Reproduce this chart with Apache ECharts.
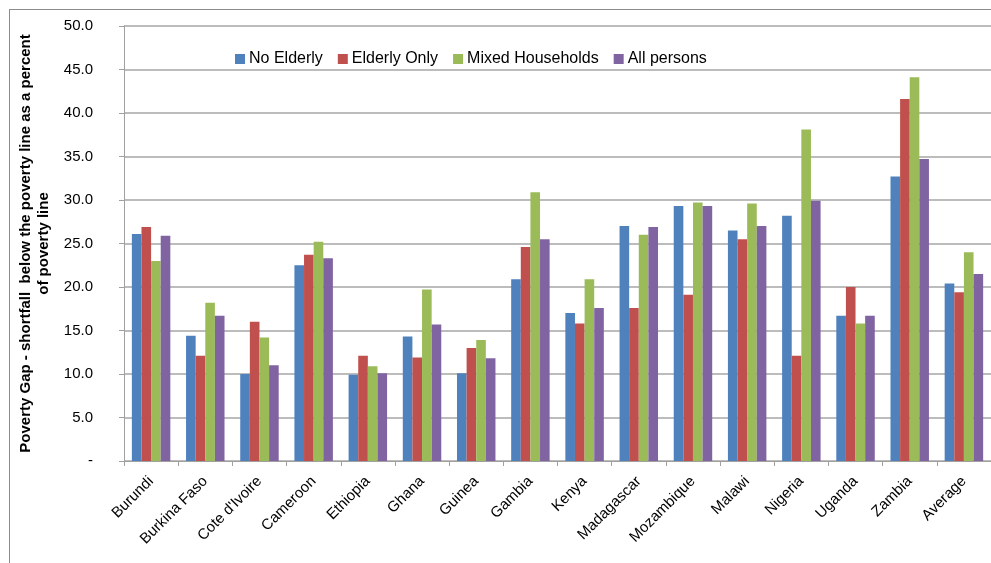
<!DOCTYPE html>
<html>
<head>
<meta charset="utf-8">
<script src="https://cdn.jsdelivr.net/npm/echarts@6/dist/echarts.min.js"></script>
<style>html,body{margin:0;padding:0;background:#fff;}#c{width:991px;height:563px;}</style>
</head>
<body>
<div id="c"></div>
<script>
const categories = ['Burundi','Burkina Faso',"Cote d'Ivoire",'Cameroon','Ethiopia','Ghana','Guinea','Gambia','Kenya','Madagascar','Mozambique','Malawi','Nigeria','Uganda','Zambia','Average'];
const noElderly    = [26.1, 14.4, 10.0, 22.5,  9.9, 14.3, 10.1, 20.9, 17.0, 27.0, 29.3, 26.5, 28.2, 16.7, 32.7, 20.4];
const elderlyOnly  = [26.9, 12.1, 16.0, 23.7, 12.1, 11.9, 13.0, 24.6, 15.8, 17.6, 19.1, 25.5, 12.1, 20.0, 41.6, 19.4];
const mixedHH      = [23.0, 18.2, 14.2, 25.2, 10.9, 19.7, 13.9, 30.9, 20.9, 26.0, 29.7, 29.6, 38.1, 15.8, 44.1, 24.0];
const allPersons   = [25.9, 16.7, 11.0, 23.3, 10.1, 15.7, 11.8, 25.5, 17.6, 26.9, 29.3, 27.0, 29.9, 16.7, 34.7, 21.5];
const seriesNames  = ['No Elderly','Elderly Only','Mixed Households','All persons'];
const yTicks = { min: 0, max: 50, interval: 5 };
const yTitle = 'Poverty Gap - shortfall  below the poverty line as a percent\nof poverty line';

const colors = ['#4F81BD','#C0504D','#9BBB59','#8064A2'];
const font = 'Liberation Sans, Arial, sans-serif';
const chart = echarts.init(document.getElementById('c'), null, {renderer:'canvas'});
const data = [noElderly, elderlyOnly, mixedHH, allPersons];
chart.setOption({
  animation: false,
  color: colors,
  textStyle: { fontFamily: font },
  graphic: [
    { type: 'line', shape: { x1: 9, y1: 9.5, x2: 991, y2: 9.5 }, style: { stroke: '#8c8c8c', lineWidth: 1 } },
    { type: 'line', shape: { x1: 9.5, y1: 9, x2: 9.5, y2: 563 }, style: { stroke: '#8c8c8c', lineWidth: 1 } }
  ],
  legend: {
    left: 230, top: 46,
    itemWidth: 10, itemHeight: 10, itemGap: 15,
    icon: 'rect',
    textStyle: { fontFamily: font, fontSize: 16, color: '#000', padding: [0,0,0,-1] },
    data: seriesNames
  },
  grid: { left: 124, top: 26, width: 869, height: 435, containLabel: false },
  xAxis: {
    type: 'category',
    data: categories,
    boundaryGap: true,
    axisLine: { lineStyle: { color: '#a0a0a0', width: 1 } },
    axisTick: { show: true, length: 5, lineStyle: { color: '#a0a0a0' } },
    axisLabel: { rotate: 45, margin: 18, fontSize: 15, color: '#000', fontFamily: font, interval: 0 }
  },
  yAxis: {
    type: 'value',
    min: yTicks.min, max: yTicks.max, interval: yTicks.interval,
    name: yTitle,
    nameLocation: 'middle',
    nameRotate: 90,
    nameGap: 71,
    nameTextStyle: { fontFamily: font, fontSize: 15, fontWeight: 'bold', color: '#000', lineHeight: 18, align: 'center' },
    axisLine: { show: true, lineStyle: { color: '#a0a0a0', width: 1 } },
    axisTick: { show: true, length: 5, lineStyle: { color: '#a0a0a0' } },
    splitLine: { show: true, lineStyle: { color: '#a6a6a6', width: 1.5 } },
    axisLabel: {
      margin: 31, fontSize: 15, color: '#000', fontFamily: font,
      formatter: v => v === 0 ? '-' : v.toFixed(1)
    }
  },
  series: seriesNames.map((n, i) => ({
    name: n,
    type: 'bar',
    data: data[i],
    barGap: '0%',
    barCategoryGap: '29%',
    itemStyle: { color: colors[i] }
  }))
});
</script>
</body>
</html>
